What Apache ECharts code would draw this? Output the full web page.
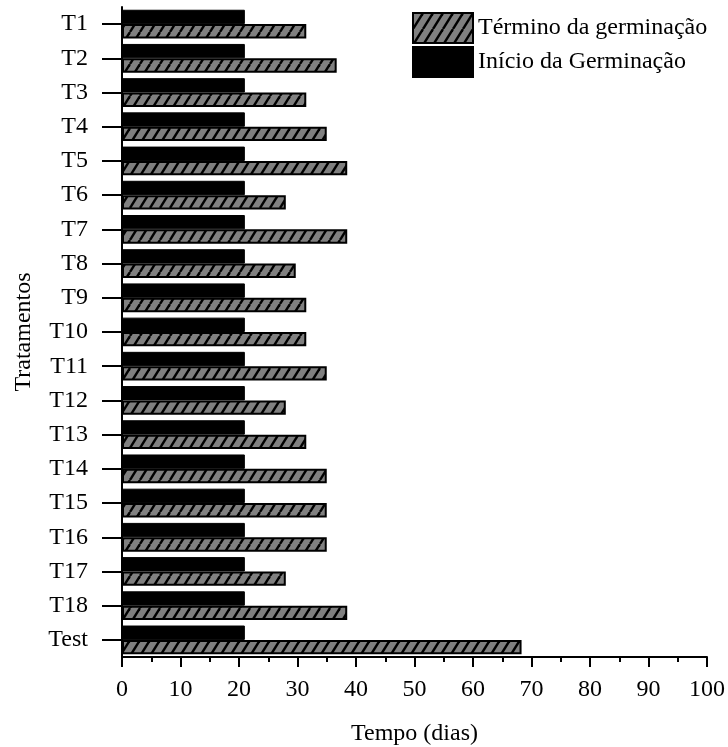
<!DOCTYPE html>
<html>
<head>
<meta charset="utf-8">
<script src="https://cdn.jsdelivr.net/npm/echarts@6/dist/echarts.min.js"></script>
<style>
html,body{margin:0;padding:0;background:#fff;}
#chart{width:728px;height:747px;}
</style>
</head>
<body>
<div id="chart"></div>
<script>
const categories = ['T1','T2','T3','T4','T5','T6','T7','T8','T9','T10','T11','T12','T13','T14','T15','T16','T17','T18','Test'];
const inicio = [21,21,21,21,21,21,21,21,21,21,21,21,21,21,21,21,21,21,21];
const termino = [31.5,36.7,31.5,35,38.5,28,38.5,29.7,31.5,31.5,35,28,31.5,35,35,35,28,38.5,68.3];
const xTicks = [0,10,20,30,40,50,60,70,80,90,100];
const seriesNames = ['Início da Germinação','Término da germinação'];

const FONT = '"Liberation Serif", "Times New Roman", serif';

// hatch pattern
const tile = document.createElement('canvas');
tile.width = 10; tile.height = 16;
const c = tile.getContext('2d');
c.fillStyle = '#808080';
c.fillRect(0,0,10,16);
c.strokeStyle = '#000';
c.lineWidth = 2.4;
for (let k = -1; k <= 1; k++) {
  c.beginPath();
  c.moveTo(k*10, 16);
  c.lineTo(k*10 + 10, 0);
  c.stroke();
}
const hatch = { image: tile, repeat: 'repeat' };

const chart = echarts.init(document.getElementById('chart'), null, {renderer:'canvas'});
chart.setOption({
  animation: false,
  backgroundColor: '#fff',
  textStyle: { fontFamily: FONT, color: '#000' },
  grid: { left: 122, right: 21, top: 7, bottom: 90, containLabel: false, outerBoundsMode: 'none' },
  legend: {
    orient: 'vertical',
    left: 412, top: 12,
    padding: 0,
    itemWidth: 60, itemHeight: 30, itemGap: 2,
    icon: 'rect',
    data: [seriesNames[1], seriesNames[0]],
    textStyle: { fontFamily: FONT, fontSize: 24, color: '#000' }
  },
  xAxis: {
    type: 'value',
    min: 0, max: 100, interval: 10,
    name: 'Tempo (dias)',
    nameLocation: 'middle',
    nameGap: 65,
    nameTextStyle: { fontFamily: FONT, fontSize: 24, color: '#000' },
    axisLine: { show: true, lineStyle: { color: '#000', width: 2 } },
    axisTick: { show: true, length: 10, lineStyle: { color: '#000', width: 2 } },
    minorTick: { show: true, splitNumber: 2, length: 5, lineStyle: { color: '#000', width: 2 } },
    splitLine: { show: false },
    axisLabel: {
      fontFamily: FONT, fontSize: 24, color: '#000', margin: 21,
      formatter: function (v) { return xTicks.indexOf(v) >= 0 ? String(v) : ''; }
    }
  },
  yAxis: {
    type: 'category',
    data: categories,
    inverse: true,
    name: 'Tratamentos',
    nameLocation: 'middle',
    nameRotate: 90,
    nameGap: 86,
    nameTextStyle: { fontFamily: FONT, fontSize: 24, color: '#000' },
    axisLine: { show: true, lineStyle: { color: '#000', width: 2 } },
    axisTick: { show: true, alignWithLabel: true, length: 20, lineStyle: { color: '#000', width: 2 } },
    axisLabel: { fontFamily: FONT, fontSize: 24, color: '#000', margin: 34 }
  },
  series: [
    {
      name: seriesNames[0],
      type: 'bar',
      data: inicio,
      barGap: '0%',
      barCategoryGap: '16%',
      itemStyle: { color: '#000', borderColor: '#000', borderWidth: 1 }
    },
    {
      name: seriesNames[1],
      type: 'bar',
      data: termino,
      barGap: '0%',
      barCategoryGap: '16%',
      itemStyle: { color: hatch, borderColor: '#000', borderWidth: 2 }
    }
  ]
});
</script>
</body>
</html>
